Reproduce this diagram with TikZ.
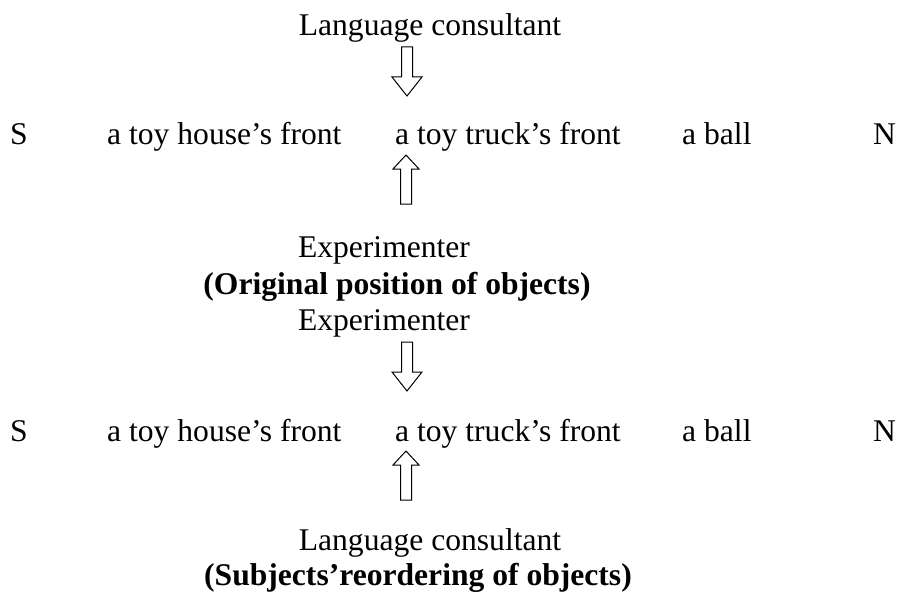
\documentclass[tikz,border=0pt]{standalone}
\usepackage{fontspec}
\setmainfont{Liberation Serif}
\begin{document}
\begin{tikzpicture}[x=1pt,y=-1pt,
  lbl/.style={inner sep=0pt, anchor=base, font=\fontsize{31.6}{38}\selectfont},
  item/.style={lbl, anchor=base west},
  hollow/.style={draw=black, fill=white, line width=1pt, line join=miter},
  arrowdown/.pic={\draw[hollow] (-5.5,0) -- (5.5,0) -- (5.5,30) -- (15,30) -- (0,49) -- (-15,30) -- (-5.5,30) -- cycle;},
  arrowup/.pic={\draw[hollow] (-5.5,0) -- (5.5,0) -- (5.5,-35) -- (13,-35) -- (0,-49) -- (-13,-35) -- (-5.5,-35) -- cycle;}]
\useasboundingbox (0,0) rectangle (898,594);

% first arrangement
\node[lbl] (lc1) at (430,36) {Language consultant};
\pic at (407,47) {arrowdown};
\node[item] (s1) at (10,145) {S};
\node[item] (house1) at (107,145) {a toy house’s front};
\node[item] (truck1) at (395,145) {a toy truck’s front};
\node[item] (ball1) at (682,145) {a ball};
\node[item] (n1) at (873,145) {N};
\pic at (406,204) {arrowup};
\node[lbl] (exp1) at (384,257) {Experimenter};
\node[lbl] (cap1) at (397,294) {\bfseries (Original position of objects)};

% second arrangement
\node[lbl] (exp2) at (384,330) {Experimenter};
\pic at (407,342) {arrowdown};
\node[item] (s2) at (10,441) {S};
\node[item] (house2) at (107,441) {a toy house’s front};
\node[item] (truck2) at (395,441) {a toy truck’s front};
\node[item] (ball2) at (682,441) {a ball};
\node[item] (n2) at (873,441) {N};
\pic at (406,500) {arrowup};
\node[lbl] (lc2) at (430,550) {Language consultant};
\node[lbl] (cap2) at (418,585) {\bfseries (Subjects’reordering of objects)};
\end{tikzpicture}
\end{document}
